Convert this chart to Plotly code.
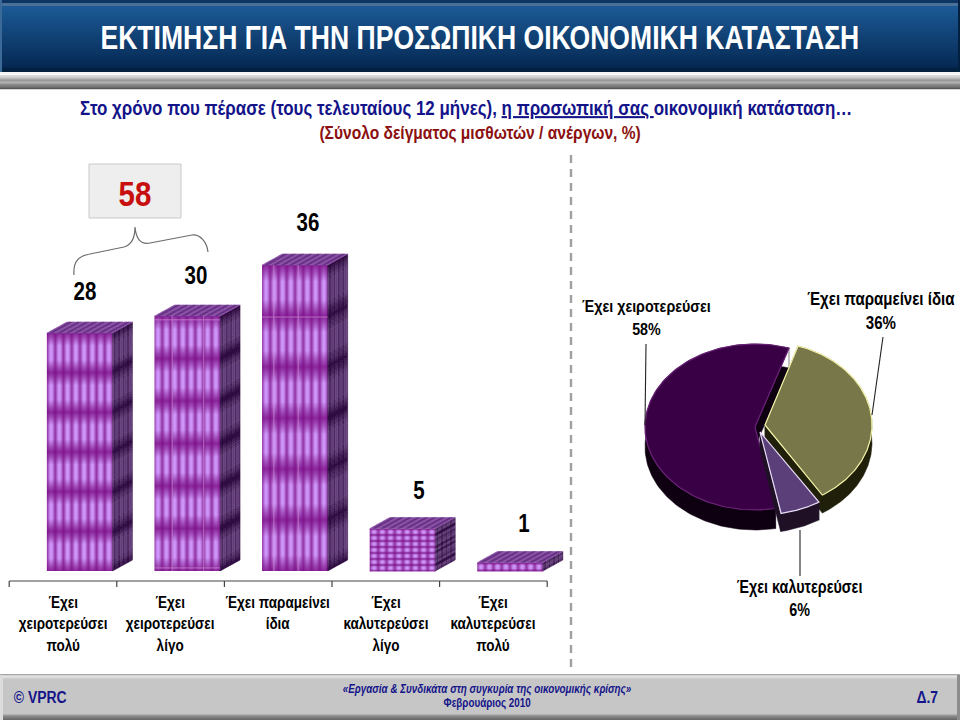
import json
import numpy as np
import plotly.graph_objects as go

# ---- data ----
bar_categories = ["Έχει<br>χειροτερεύσει<br>πολύ", "Έχει<br>χειροτερεύσει<br>λίγο", "Έχει παραμείνει<br>ίδια",
                  "Έχει<br>καλυτερεύσει<br>λίγο", "Έχει<br>καλυτερεύσει<br>πολύ"]
bar_values = [28, 30, 36, 5, 1]
pie_labels = ["Έχει χειροτερεύσει", "Έχει παραμείνει ίδια", "Έχει καλυτερεύσει"]
pie_values = [58, 36, 6]
grouped_value = 58

# ---- styling ----
FONT = "Liberation Sans"
NAVY = "#14148a"
NARROW = 0.82                       # horizontal squeeze of the text, the source uses a condensed face
PX_X, PX_Y = 107.6, 8.5            # pixels per category / per value unit
X0_PX, Y0_PX = 63, 571             # where category 0 and value 0 fall
BAR_OFFSET, BAR_WIDTH = -0.15, 0.61
DEPTH_X, DEPTH_Y = 20 / PX_X, 11 / PX_Y
bar_rows = [6, 6, 6, 7, 1]
label_dx = [0.20, 0.24, 0.28, 0.31, 0.28]
label_dy = [4.9, 4.8, 5.1, 4.5, 4.6]
pie_center = [(755, 427), (765, 425), (760, 432)]
pie_radii = [(110, 83), (107, 83), (110, 83)]
pie_depth = [20, 18, 18]
pie_top = ["#3a0046", "#77774a", "#5a3f78"]
pie_edge = ["#6a2078", "#f4f4a8", "#e8dcf8"]
pie_body = ["#0e0010", "#1f1f0a", "#1f1026"]
START_ANGLE = 72


def mix(c1, c2, t):
    a = [int(c1[i:i + 2], 16) for i in (1, 3, 5)]
    b = [int(c2[i:i + 2], 16) for i in (1, 3, 5)]
    return "#%02x%02x%02x" % tuple(int(round(p + (q - p) * t)) for p, q in zip(a, b))


def band(frac):
    d = np.abs(((frac + 0.5) % 1) - 0.5)
    return np.clip(d / 0.32, 0, 1)


fig = go.Figure()

# real bars (transparent: the texture below shows through)
fig.add_trace(go.Bar(x=list(range(5)), y=bar_values, width=BAR_WIDTH, offset=BAR_OFFSET,
                     marker=dict(color="rgba(138,42,154,0)", line=dict(width=0)), hoverinfo="y", showlegend=False))

# front face texture
for i, v in enumerate(bar_values):
    nx, ny = 66, max(int(round(v * PX_Y)), 2)
    xs = i + BAR_OFFSET + (np.arange(nx) + 0.5) / nx * BAR_WIDTH
    ys = (np.arange(ny) + 0.5) / ny * v
    col = np.abs(np.sin(np.pi * (np.arange(nx) + 0.5) / nx * 8))
    row = band((np.arange(ny) + 0.5) / ny * bar_rows[i])
    z = np.outer(0.22 + 0.78 * row, 0.35 + 0.65 * col ** 1.3)
    fig.add_trace(go.Heatmap(x=xs, y=ys, z=z, zmin=0, zmax=1, showscale=False, hoverinfo="skip",
                             colorscale=[[0, "#7a0a85"], [0.5, "#a04cb8"], [1, "#cf97fb"]]))

# side and top faces as sheared strips
buckets = {}


def quad(p0, u, v, nu, nv, fn, c1, c2, levels=8):
    for a in range(nu):
        for b in range(nv):
            t = fn((a + 0.5) / nu, (b + 0.5) / nv)
            t = round(float(t) * (levels - 1)) / (levels - 1)
            pts = [(a / nu, b / nv), ((a + 1) / nu, b / nv), ((a + 1) / nu, (b + 1) / nv), (a / nu, (b + 1) / nv), (a / nu, b / nv)]
            xs = buckets.setdefault(mix(c1, c2, t), ([], []))
            for s, r in pts:
                xs[0].append(p0[0] + s * u[0] + r * v[0])
                xs[1].append(p0[1] + s * u[1] + r * v[1])
            xs[0].append(None)
            xs[1].append(None)


for i, v in enumerate(bar_values):
    right = i + BAR_OFFSET + BAR_WIDTH
    left = i + BAR_OFFSET
    rows = bar_rows[i]
    quad((right, 0), (DEPTH_X, DEPTH_Y), (0, v), 18, max(int(v * PX_Y / 2.5), 1),
         lambda a, b, rows=rows: (0.45 + 0.55 * (0.5 + 0.5 * np.cos(2 * np.pi * a * 4.5))) * (0.15 + 0.85 * band(b * rows)),
         "#28063a", "#6e4a86")
    quad((left, v), (BAR_WIDTH, 0), (DEPTH_X, DEPTH_Y), 48, 6,
         lambda a, b: (0.3 + 0.7 * (0.5 + 0.5 * np.cos(2 * np.pi * a * 8))) * (0.55 + 0.45 * abs(np.sin(np.pi * b * 3))),
         "#4e1a6c", "#a264bd")

for color, (xs, ys) in buckets.items():
    fig.add_trace(go.Scatter(x=xs, y=ys, mode="lines", fill="toself", fillcolor=color,
                             line=dict(color=color, width=0.4), hoverinfo="skip", showlegend=False))

# pale seams on the two largest textures
for i, xf, yf in [(1, (0.27, 0.75), (0.985, 0.012)), (2, (0.18, 0.55), (0.83,))]:
    v = bar_values[i]
    sx, sy = [], []
    for f in xf:
        x = i + BAR_OFFSET + f * BAR_WIDTH
        sx += [x, x, None]
        sy += [0, v, None]
    for f in yf:
        sx += [i + BAR_OFFSET, i + BAR_OFFSET + BAR_WIDTH, None]
        sy += [f * v, f * v, None]
    fig.add_trace(go.Scatter(x=sx, y=sy, mode="lines", line=dict(color="#cf8fd6", width=1), opacity=0.7,
                             hoverinfo="skip", showlegend=False))

# pie drawn on a second, hidden pair of axes, tilted into an ellipse
angle = START_ANGLE
spans = []
spans.append((angle, angle + pie_values[0] * 3.6))
spans.append((angle - pie_values[1] * 3.6, angle))
spans.append((angle - (pie_values[1] + pie_values[2]) * 3.6, angle - pie_values[1] * 3.6))

for k in [0, 1, 2]:
    a0, a1 = spans[k]
    cx, cy = pie_center[k]
    ra, rb = pie_radii[k]
    d = pie_depth[k]
    t = np.radians(np.linspace(a0, a1, 160))
    ax = cx + ra * np.cos(t)
    ay = cy - rb * np.sin(t)
    bx = list(ax) + list(ax[::-1]) + [None]
    by = list(ay) + list((ay + d)[::-1]) + [None]
    for ex, ey in [(ax[0], ay[0]), (ax[-1], ay[-1])]:
        bx += [cx, ex, ex, cx, cx, None]
        by += [cy, ey, ey + d, cy + d, cy, None]
    fig.add_trace(go.Scatter(x=bx, y=by, xaxis="x2", yaxis="y2", mode="lines", fill="toself",
                             fillcolor=pie_body[k], line=dict(color=pie_body[k], width=0.5),
                             hoverinfo="skip", showlegend=False))
    fig.add_trace(go.Scatter(x=[cx] + list(ax) + [cx], y=[cy] + list(ay) + [cy], xaxis="x2", yaxis="y2",
                             mode="lines", fill="toself", fillcolor=pie_top[k],
                             line=dict(color=pie_edge[k], width=1.2), name=pie_labels[k],
                             hoverinfo="name", showlegend=False))

# ---- page furniture, in pixel coordinates on the second axes ----
shapes = []


def rect(x0, y0, x1, y1, fill, line=None):
    shapes.append(dict(type="rect", xref="x2", yref="y2", x0=x0, y0=y0, x1=x1, y1=y1, fillcolor=fill,
                       line=dict(width=1 if line else 0, color=line or fill), layer="below"))


def seg(x0, y0, x1, y1, color, width=1.0, dash=None, layer="above"):
    shapes.append(dict(type="line", xref="x2", yref="y2", x0=x0, y0=y0, x1=x1, y1=y1, layer=layer,
                       line=dict(color=color, width=width, dash=dash or "solid")))


# header band
rect(0, 0, 960, 72, "#0a3a70")
rect(0, 0, 960, 3, "#0c3563")
rect(0, 3, 960, 6, "#4a7099")
for y in range(6, 70):
    t = (y - 6) / 64
    rect(0, y, 960, y + 1.2, mix("#1c5a96", "#04264f", t))
rect(0, 68, 960, 72, "#03203f")
rect(0, 0, 2, 72, "#3c6a98")
rect(958, 0, 960, 72, "#02203f")
rect(0, 72, 960, 74.5, "#f4f4f4")
for y, c in zip(range(75, 89), ["#dcdcdc", "#d4d4d4", "#c8c8c8", "#b8b8b8", "#a4a4a4", "#989898", "#a8a8a8", "#b0b0b0",
                                "#a0a0a0", "#8c8c8c", "#808080", "#787878", "#6a6a6a", "#585858"]):
    rect(0, y, 960, y + 1.2, c)

# footer band
rect(0, 674, 960, 720, "#c6c6c6")
for y, c in zip(range(674, 680), ["#a8a8a8", "#d0d0d0", "#e2e2e2", "#dadada", "#cecece", "#c8c8c8"]):
    rect(0, y, 960, y + 1.2, c)
for y, c in zip(range(714, 720), ["#b0b0b0", "#989898", "#888888", "#7c7c7c", "#747474", "#6a6a6a"]):
    rect(0, y, 960, y + 1.2, c)
rect(0, 675, 3, 720, "#dcdcdc")
rect(957, 675, 960, 720, "#8c8c8c")

# total box, bracket, divider
rect(89, 164, 181, 218, "#eeeeee", "#c9c9c9")
shapes.append(dict(type="path", xref="x2", yref="y2", layer="above", line=dict(color="#6b6b6b", width=1.2),
                   path="M 74 275 C 73 262, 78 256, 90 254 L 124 247 C 131 245, 135 238, 135 227 "
                        "C 136 238, 140 245, 150 243 L 192 235 C 200 234, 207 242, 208 252"))
seg(571, 155, 571, 668, "#a0a0a0", 2.4, "8px,6px")

# category axis: a bracket per bar
yb = (Y0_PX - 581) / PX_Y
yt = (Y0_PX - 587) / PX_Y
shapes.append(dict(type="line", xref="x", yref="y", x0=-0.5, x1=4.5, y0=yb, y1=yb, line=dict(color="#444444", width=1.2)))
for i in range(6):
    shapes.append(dict(type="line", xref="x", yref="y", x0=i - 0.5, x1=i - 0.5, y0=yb, y1=yt, line=dict(color="#444444", width=1.2)))

# pie leader lines
seg(646, 344, 645, 425, "#222222", 1.1)
seg(883, 337, 872, 415, "#222222", 1.1)
seg(800, 530, 800, 576, "#222222", 1.1)

anns = []


def text(x, y, s, size, color="black", bold=True, italic=False, anchor="center"):
    if bold:
        s = "<b>" + s + "</b>"
    if italic:
        s = "<i>" + s + "</i>"
    anns.append(dict(x=x, y=y, xref="x2", yref="y2", text=s, showarrow=False, xanchor=anchor, yanchor="middle",
                     font=dict(family=FONT, size=size, color=color), align="center"))


text(480, 38, "ΕΚΤΙΜΗΣΗ ΓΙΑ ΤΗΝ ΠΡΟΣΩΠΙΚΗ ΟΙΚΟΝΟΜΙΚΗ ΚΑΤΑΣΤΑΣΗ", 32.4, "white")
text(465.5, 108, "Στο χρόνο που πέρασε (τους τελευταίους 12 μήνες), <u>η προσωπική σας </u>οικονομική κατάσταση…", 20.7, NAVY)
text(480, 132, "(Σύνολο δείγματος μισθωτών / ανέργων, %)", 19, "#8b1010")
text(135, 193, str(grouped_value), 36, "#c80f10")
text(646, 317, f"{pie_labels[0]}<br>{pie_values[0]}%", 17.4)
text(881, 310, f"{pie_labels[1]}<br>{pie_values[1]}%", 18.4)
text(799, 598, f"{pie_labels[2]}<br>{pie_values[2]}%", 17.5)
text(40, 697, "© VPRC", 17, NAVY)
text(487, 689, "«Εργασία &amp; Συνδικάτα στη συγκυρία της οικονομικής κρίσης»", 12, NAVY, italic=True)
text(487, 703, "Φεβρουάριος 2010", 12, NAVY)
text(927, 697, "Δ.7", 17, NAVY)

for i, v in enumerate(bar_values):
    anns.append(dict(x=i + label_dx[i], y=v + label_dy[i], xref="x", yref="y", text=f"<b>{v}</b>", showarrow=False,
                     font=dict(family=FONT, size=25, color="black")))
    anns.append(dict(x=i, y=(Y0_PX - 591) / PX_Y, xref="x", yref="y", text=f"<b>{bar_categories[i]}</b>", showarrow=False,
                     yanchor="top", align="center", font=dict(family=FONT, size=16.5, color="black")))

fig.update_layout(
    width=960, height=720, margin=dict(l=0, r=0, t=0, b=0), autosize=False,
    paper_bgcolor="white", plot_bgcolor="rgba(0,0,0,0)", showlegend=False,
    xaxis=dict(range=[-X0_PX / PX_X, (960 - X0_PX) / PX_X], visible=False, domain=[0, 1]),
    yaxis=dict(range=[(Y0_PX - 720) / PX_Y, Y0_PX / PX_Y], visible=False, domain=[0, 1]),
    xaxis2=dict(range=[0, 960], visible=False, overlaying="x"),
    yaxis2=dict(range=[720, 0], visible=False, overlaying="y"),
    shapes=shapes, annotations=anns,
)

squeeze_js = """
document.body.style.margin='0';document.body.style.overflow='hidden';
function squeeze(){
  document.querySelectorAll('g.annotation text.annotation-text').forEach(function(t){
    var x=parseFloat(t.getAttribute('x'))||0;
    t.setAttribute('transform','translate('+x+' 0) scale(%s 1) translate('+(-x)+' 0)');
  });
}
squeeze();setTimeout(squeeze,50);setTimeout(squeeze,300);
""" % json.dumps(NARROW)
fig.write_html("out.html", config=dict(displayModeBar=False), post_script=squeeze_js)
